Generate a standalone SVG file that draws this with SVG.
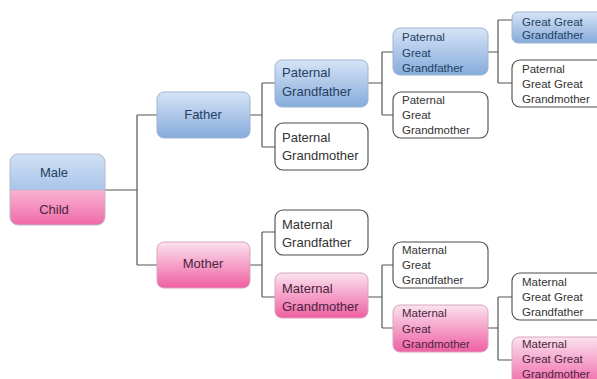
<svg xmlns="http://www.w3.org/2000/svg" width="597" height="379" viewBox="0 0 597 379">
<defs>
<linearGradient id="gBlue" x1="0" y1="0" x2="0" y2="1">
<stop offset="0" stop-color="#d6e4f6"/>
<stop offset="1" stop-color="#86abdc"/>
</linearGradient>
<linearGradient id="gPink" x1="0" y1="0" x2="0" y2="1">
<stop offset="0" stop-color="#fbe3ee"/>
<stop offset="1" stop-color="#ef5fa2"/>
</linearGradient>
<linearGradient id="gMale" x1="0" y1="0" x2="0" y2="1">
<stop offset="0" stop-color="#d0e0f4"/>
<stop offset="1" stop-color="#a9c5ea"/>
</linearGradient>
<linearGradient id="gChild" x1="0" y1="0" x2="0" y2="1">
<stop offset="0" stop-color="#f9b3d2"/>
<stop offset="1" stop-color="#f06aa8"/>
</linearGradient>
</defs>
<style>
.blue{fill:url(#gBlue);stroke:#9db4d2;stroke-width:1}
.pink{fill:url(#gPink);stroke:#d9a3bc;stroke-width:1}
.white{fill:#ffffff;stroke:#4a4a4a;stroke-width:1.1}
text{font-family:"Liberation Sans",Arial,sans-serif}
.t13{font-size:13px}
.t11{font-size:11.5px}
.tb{fill:#24405e}
.tp{fill:#4a2440}
.tw{fill:#333333}
.conn path{fill:none;stroke:#555555;stroke-width:1.2}
</style>
<rect width="597" height="379" fill="#ffffff"/>
<g class="conn" id="connectors">
<path d="M105 190H137M137 115V265M137 115H157M137 265H157"/>
<path d="M250 115H262M262 83V147M262 83H275M262 147H275"/>
<path d="M250 265H262M262 232V297M262 232H275M262 297H275"/>
<path d="M368 83H382M382 52V115M382 52H393M382 115H393"/>
<path d="M368 297H382M382 265V328M382 265H393M382 328H393"/>
<path d="M488 52H498M498 20V83M498 20H512M498 83H512"/>
<path d="M488 328H498M498 297V360M498 297H512M498 360H512"/>
</g>
<g id="child">
<path d="M18 154H97A8 8 0 0 1 105 162V190H10V162A8 8 0 0 1 18 154Z" fill="url(#gMale)"/>
<path d="M10 190H105V217A8 8 0 0 1 97 225H18A8 8 0 0 1 10 217Z" fill="url(#gChild)"/>
<rect x="10" y="154" width="95" height="71" rx="8" fill="none" stroke="#b9b9cc" stroke-width="1"/>
<line x1="10" y1="190" x2="105" y2="190" stroke="#c0b0c8" stroke-width="0.8"/>
<text x="54" y="177" text-anchor="middle" class="t13 tb">Male</text>
<text x="54" y="214" text-anchor="middle" class="t13 tp">Child</text>
</g>
<g id="father">
<rect x="157" y="92" width="93" height="46" rx="7" class="blue"/>
<text x="203" y="119" text-anchor="middle" class="t13 tb">Father</text>
</g>
<g id="mother">
<rect x="157" y="242" width="93" height="46" rx="7" class="pink"/>
<text x="203" y="268" text-anchor="middle" class="t13 tp">Mother</text>
</g>
<g id="paternal-grandfather">
<rect x="275" y="60" width="93" height="47" rx="7" class="blue"/>
<text class="t13 tb"><tspan x="282" y="77">Paternal</tspan><tspan x="282" y="96">Grandfather</tspan></text>
</g>
<g id="paternal-grandmother">
<rect x="275" y="123" width="93" height="47" rx="8" class="white"/>
<text class="t13 tw"><tspan x="282" y="142">Paternal</tspan><tspan x="282" y="160">Grandmother</tspan></text>
</g>
<g id="maternal-grandfather">
<rect x="275" y="210" width="93" height="45" rx="8" class="white"/>
<text class="t13 tw"><tspan x="282" y="229">Maternal</tspan><tspan x="282" y="247">Grandfather</tspan></text>
</g>
<g id="maternal-grandmother">
<rect x="275" y="273" width="93" height="45" rx="7" class="pink"/>
<text class="t13 tp"><tspan x="282" y="293">Maternal</tspan><tspan x="282" y="311">Grandmother</tspan></text>
</g>
<g id="paternal-great-grandfather">
<rect x="393" y="28" width="95" height="47" rx="7" class="blue"/>
<text class="t11 tb"><tspan x="402" y="41">Paternal</tspan><tspan x="402" y="57">Great</tspan><tspan x="402" y="72">Grandfather</tspan></text>
</g>
<g id="paternal-great-grandmother">
<rect x="393" y="92" width="95" height="46" rx="8" class="white"/>
<text class="t11 tw"><tspan x="402" y="104">Paternal</tspan><tspan x="402" y="119">Great</tspan><tspan x="402" y="134">Grandmother</tspan></text>
</g>
<g id="maternal-great-grandfather">
<rect x="393" y="242" width="95" height="46" rx="8" class="white"/>
<text class="t11 tw"><tspan x="402" y="254">Maternal</tspan><tspan x="402" y="269">Great</tspan><tspan x="402" y="284">Grandfather</tspan></text>
</g>
<g id="maternal-great-grandmother">
<rect x="393" y="305" width="95" height="47" rx="7" class="pink"/>
<text class="t11 tp"><tspan x="402" y="317">Maternal</tspan><tspan x="402" y="333">Great</tspan><tspan x="402" y="348">Grandmother</tspan></text>
</g>
<g id="paternal-great-great-grandfather">
<rect x="512" y="12" width="100" height="31" rx="6" class="blue"/>
<text class="t11 tb"><tspan x="522" y="26">Great Great</tspan><tspan x="522" y="39">Grandfather</tspan></text>
</g>
<g id="paternal-great-great-grandmother">
<rect x="512" y="60" width="100" height="47" rx="8" class="white"/>
<text class="t11 tw"><tspan x="522" y="73">Paternal</tspan><tspan x="522" y="88">Great Great</tspan><tspan x="522" y="103">Grandmother</tspan></text>
</g>
<g id="maternal-great-great-grandfather">
<rect x="512" y="273" width="100" height="47" rx="8" class="white"/>
<text class="t11 tw"><tspan x="522" y="286">Maternal</tspan><tspan x="522" y="301">Great Great</tspan><tspan x="522" y="316">Grandfather</tspan></text>
</g>
<g id="maternal-great-great-grandmother">
<rect x="512" y="337" width="100" height="52" rx="7" class="pink"/>
<text class="t11 tp"><tspan x="522" y="348">Maternal</tspan><tspan x="522" y="363">Great Great</tspan><tspan x="522" y="378">Grandmother</tspan></text>
</g>
</svg>
